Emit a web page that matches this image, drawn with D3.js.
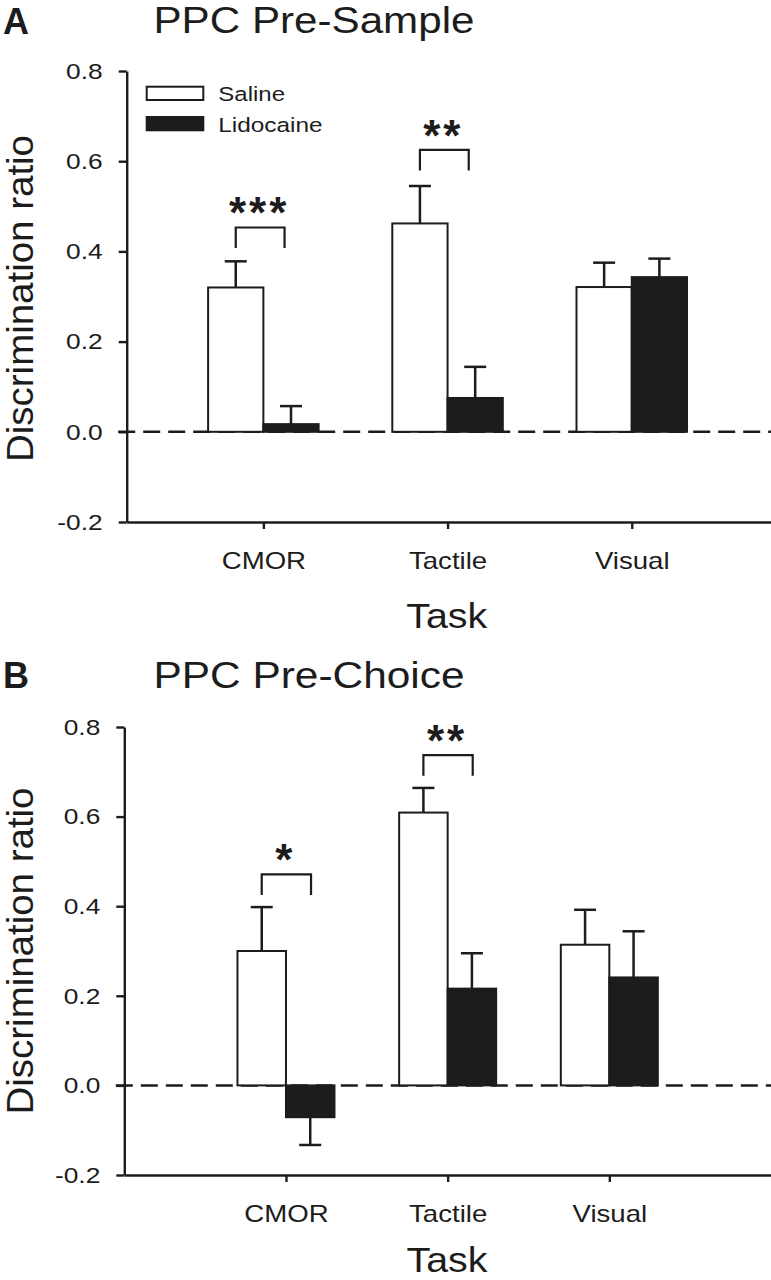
<!DOCTYPE html>
<html><head><meta charset="utf-8">
<script src="https://cdn.jsdelivr.net/npm/d3@7"></script>
<style>html,body{margin:0;padding:0;background:#fff;} svg{display:block;}</style>
</head><body>
<script>
// ---------- data ----------
const categories = ["CMOR", "Tactile", "Visual"];
const seriesNames = ["Saline", "Lidocaine"];
const panelTitles = ["PPC Pre-Sample", "PPC Pre-Choice"];
const panelLetters = ["A", "B"];
const yTicks = [-0.2, 0.0, 0.2, 0.4, 0.6, 0.8];
const yTickLabels = ["-0.2", "0.0", "0.2", "0.4", "0.6", "0.8"];
const yLabel = "Discrimination ratio";
const xLabel = "Task";

// Panel A (Pre-Sample)
const salineA = [0.320, 0.462, 0.321];
const salineErrA = [0.058, 0.083, 0.054];
const lidoA = [0.017, 0.075, 0.343];
const lidoErrA = [0.040, 0.069, 0.041];
const sigA = [{cat: 0, label: "***", y: 0.453}, {cat: 1, label: "**", y: 0.625}];

// Panel B (Pre-Choice)
const salineB = [0.300, 0.609, 0.314];
const salineErrB = [0.098, 0.055, 0.078];
const lidoB = [-0.071, 0.216, 0.241];
const lidoErrB = [0.062, 0.079, 0.103];
const sigB = [{cat: 0, label: "*", y: 0.471}, {cat: 1, label: "**", y: 0.737}];

// ---------- drawing ----------
const W = 771, H = 1280;
const FONT = "'Liberation Sans', Arial, Helvetica, sans-serif";
const INK = "#1c1c1c";
const svg = d3.select("body").append("svg")
  .attr("width", W).attr("height", H).attr("viewBox", `0 0 ${W} ${H}`)
  .style("font-family", FONT);

function stretch(sel, f) {
  sel.each(function () {
    const L = this.getComputedTextLength();
    d3.select(this).attr("textLength", L * f).attr("lengthAdjust", "spacingAndGlyphs");
  });
}

const panels = [
  {letter: panelLetters[0], title: panelTitles[0], saline: salineA, salineErr: salineErrA, lido: lidoA, lidoErr: lidoErrA, sig: sigA,
   top: 71, bottom: 522, left: 126.7, right: 771, xDomain: [0.258, 3.756],
   letterBase: 33.5, titleBase: 33.3, titleW: 321, taskBase: 627.7, taskX: 446.7, yLabelY: 298.5,
   bracketRight: 0.115, legend: true},
  {letter: panelLetters[1], title: panelTitles[1], saline: salineB, salineErr: salineErrB, lido: lidoB, lidoErr: lidoErrB, sig: sigB,
   top: 727, bottom: 1175, left: 124.3, right: 771, xDomain: [0, 4],
   letterBase: 688, titleBase: 688, titleW: 311, taskBase: 1271.5, taskX: 447, yLabelY: 951,
   bracketRight: 0.155, legend: false}
];

const BAR = 0.3; // bar width in category units

panels.forEach(p => {
  const g = svg.append("g");
  const y = d3.scaleLinear().domain([yTicks[0], yTicks[yTicks.length - 1]]).range([p.bottom, p.top]);
  const x = d3.scaleLinear().domain(p.xDomain).range([p.left, p.right]);

  // zero reference line (dashed)
  g.append("line")
    .attr("x1", p.left - 8.5).attr("x2", p.right)
    .attr("y1", y(0)).attr("y2", y(0))
    .attr("stroke", INK).attr("stroke-width", 2.5).attr("stroke-dasharray", "17,8");

  const rows = [];
  categories.forEach((c, i) => {
    rows.push({cat: i, s: 0, v: p.saline[i], e: p.salineErr[i]});
    rows.push({cat: i, s: 1, v: p.lido[i], e: p.lidoErr[i]});
  });
  const x0 = d => x(d.cat + 1 + (d.s === 0 ? -BAR : 0));
  const x1 = d => x(d.cat + 1 + (d.s === 0 ? 0 : BAR));
  const xc = d => (x0(d) + x1(d)) / 2;

  // error bars
  const eb = g.append("g").attr("stroke", INK).attr("stroke-width", 2.5);
  rows.forEach(d => {
    const sgn = d.v >= 0 ? 1 : -1;
    const yEnd = y(d.v + sgn * d.e);
    eb.append("line").attr("x1", xc(d)).attr("x2", xc(d)).attr("y1", y(d.v)).attr("y2", yEnd);
    eb.append("line").attr("x1", xc(d) - 11).attr("x2", xc(d) + 11).attr("y1", yEnd).attr("y2", yEnd);
  });

  // bars
  g.append("g").selectAll("rect").data(rows).join("rect")
    .attr("x", x0)
    .attr("width", d => x1(d) - x0(d))
    .attr("y", d => Math.min(y(d.v), y(0)))
    .attr("height", d => Math.abs(y(d.v) - y(0)))
    .attr("fill", d => d.s === 0 ? "#fff" : INK)
    .attr("stroke", INK).attr("stroke-width", 2);

  // left axis
  const ya = g.append("g").attr("transform", `translate(${p.left},0)`)
    .call(d3.axisLeft(y).tickValues(yTicks).tickFormat((d, i) => yTickLabels[i])
      .tickSize(8).tickSizeOuter(0).tickPadding(16));
  ya.selectAll("path,line").attr("stroke", INK).attr("stroke-width", 2.4);
  ya.selectAll("text").attr("fill", INK).attr("font-size", 22.5).attr("font-family", FONT);
  stretch(ya.selectAll("text"), 1.17);

  // bottom axis
  const xa = g.append("g").attr("transform", `translate(0,${p.bottom})`)
    .call(d3.axisBottom(x).tickValues(categories.map((c, i) => i + 1)).tickFormat((d, i) => categories[i])
      .tickSize(7).tickSizeOuter(0).tickPadding(22.5));
  xa.selectAll("path,line").attr("stroke", INK).attr("stroke-width", 2.4);
  xa.selectAll("text").attr("fill", INK).attr("font-size", 24).attr("font-family", FONT);
  stretch(xa.selectAll("text"), 1.15);

  // significance brackets
  p.sig.forEach(s => {
    const xl = x(s.cat + 1 - BAR / 2), xr = x(s.cat + 1 + p.bracketRight);
    const yt = y(s.y);
    g.append("path")
      .attr("d", `M${xl},${yt + 20.5}V${yt}H${xr}V${yt + 20.5}`)
      .attr("fill", "none").attr("stroke", INK).attr("stroke-width", 2.2);
    g.append("text")
      .attr("x", (xl + xr) / 2 - 1).attr("y", yt + 1)
      .attr("text-anchor", "middle").attr("font-size", 44).attr("font-weight", "bold")
      .attr("letter-spacing", "3px").attr("fill", INK)
      .text(s.label);
  });

  // panel letter
  g.append("text").attr("x", 3).attr("y", p.letterBase)
    .attr("font-size", 36).attr("font-weight", "bold").attr("fill", INK).text(p.letter);

  // title
  g.append("text").attr("x", 153.5).attr("y", p.titleBase)
    .attr("font-size", 36).attr("fill", INK)
    .attr("textLength", p.titleW).attr("lengthAdjust", "spacingAndGlyphs")
    .text(p.title);

  // y label
  g.append("text")
    .attr("transform", `translate(33,${p.yLabelY}) rotate(-90)`)
    .attr("text-anchor", "middle").attr("font-size", 36).attr("fill", INK)
    .attr("textLength", 327).attr("lengthAdjust", "spacingAndGlyphs")
    .text(yLabel);

  // x label
  g.append("text").attr("x", p.taskX).attr("y", p.taskBase)
    .attr("text-anchor", "middle").attr("font-size", 35).attr("fill", INK)
    .attr("textLength", 81).attr("lengthAdjust", "spacingAndGlyphs")
    .text(xLabel);

  // legend
  if (p.legend) {
    const lg = g.append("g");
    const ly = [86.7, 117];
    const tw = [66.7, 104.3];
    seriesNames.forEach((n, i) => {
      lg.append("rect").attr("x", 146.7).attr("y", ly[i]).attr("width", 56.6).attr("height", 13.3)
        .attr("fill", i === 0 ? "#fff" : INK).attr("stroke", INK).attr("stroke-width", 2);
      lg.append("text").attr("x", 218.3).attr("y", ly[i] + 14.5)
        .attr("font-size", 20.5).attr("fill", INK)
        .attr("textLength", tw[i]).attr("lengthAdjust", "spacingAndGlyphs")
        .text(n);
    });
  }
});
</script>
</body></html>
